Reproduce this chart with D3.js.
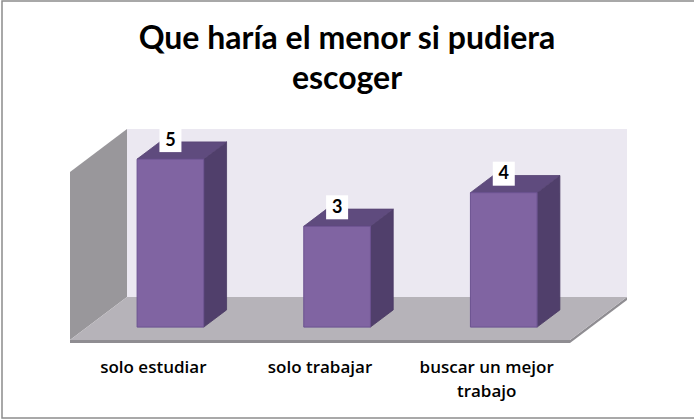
<!DOCTYPE html>
<html>
<head>
<meta charset="utf-8">
<script src="https://cdn.jsdelivr.net/npm/d3@7"></script>
<style>
  html, body { margin: 0; padding: 0; background: #fff; overflow: hidden; }
  svg { display: block; font-family: Lato, "Open Sans", sans-serif; }
</style>
</head>
<body>
<svg id="chart"></svg>
<script>
// datos del gráfico
const categories = ["solo estudiar", "solo trabajar", "buscar un mejor trabajo"];
const values = [5, 3, 4];
const titleLines = ["Que haría el menor si pudiera", "escoger"];
const axisMax = 5;

const W = 694, H = 419;
const origin = { x: 70, y: 340 };   // esquina frontal izquierda del suelo
const plotW = 500, plotH = 168;     // ancho del suelo y alto de la pared
const depth = { dx: 57, dy: -43 };  // proyección oblicua de la profundidad

const svg = d3.select('#chart')
    .attr('width', W)
    .attr('height', H);

svg.append('rect')
    .attr('width', W).attr('height', H)
    .attr('fill', '#fff');

// borde del área del gráfico
svg.append('rect')
    .attr('x', 2).attr('y', 1)
    .attr('width', W + 4).attr('height', H - 2)
    .attr('fill', 'none')
    .attr('stroke', '#8c8c8c')
    .attr('stroke-width', 1.5);

const x = d3.scaleBand()
    .domain(categories)
    .range([0, plotW])
    .paddingInner(0.6)
    .paddingOuter(0.3);

const y = d3.scaleLinear()
    .domain([0, axisMax])
    .range([0, plotH]);

const z = d3.scaleLinear().domain([0, 1]).range([0, 1]);

// punto 3D -> pantalla
function proj(px, h, pz) {
    return [origin.x + px + z(pz) * depth.dx, origin.y - h + z(pz) * depth.dy];
}
function poly(pts) {
    return 'M' + pts.map(p => p.join(',')).join('L') + 'Z';
}

const walls = svg.append('g');

// pared del fondo
walls.append('path')
    .attr('d', poly([proj(0, 0, 1), proj(plotW, 0, 1), proj(plotW, y(axisMax), 1), proj(0, y(axisMax), 1)]))
    .attr('fill', '#ebe8f1');

// pared izquierda
walls.append('path')
    .attr('d', poly([proj(0, 0, 0), proj(0, y(axisMax), 0), proj(0, y(axisMax), 1), proj(0, 0, 1)]))
    .attr('fill', '#99979b');

// grosor del suelo
const th = 3;
walls.append('path')
    .attr('d', poly([proj(0, 0, 0), proj(plotW, 0, 0), proj(plotW, -th, 0), proj(0, -th, 0)]))
    .attr('fill', '#8f8d92');
walls.append('path')
    .attr('d', poly([proj(plotW, 0, 0), proj(plotW, 0, 1), proj(plotW, -th, 1), proj(plotW, -th, 0)]))
    .attr('fill', '#8f8d92');

// suelo
walls.append('path')
    .attr('d', poly([proj(0, 0, 0), proj(plotW, 0, 0), proj(plotW, 0, 1), proj(0, 0, 1)]))
    .attr('fill', '#b6b3b9');

// barras 3D
const z0 = 0.3, z1 = 0.7;
const bars = svg.selectAll('.bar')
    .data(categories.map((c, i) => ({ cat: c, value: values[i] })))
    .enter()
    .append('g')
    .attr('class', 'bar');

bars.append('path')
    .attr('d', d => {
        const x0 = x(d.cat) + x.bandwidth(), h = y(d.value);
        return poly([proj(x0, 0, z0), proj(x0, 0, z1), proj(x0, h, z1), proj(x0, h, z0)]);
    })
    .attr('fill', '#503f6b')
    .attr('stroke', '#4a3a63').attr('stroke-width', 0.8);

bars.append('path')
    .attr('d', d => {
        const x0 = x(d.cat), x1 = x0 + x.bandwidth(), h = y(d.value);
        return poly([proj(x0, h, z0), proj(x1, h, z0), proj(x1, h, z1), proj(x0, h, z1)]);
    })
    .attr('fill', '#5f4b7e')
    .attr('stroke', '#574474').attr('stroke-width', 0.8);

bars.append('path')
    .attr('d', d => {
        const x0 = x(d.cat), x1 = x0 + x.bandwidth(), h = y(d.value);
        return poly([proj(x0, 0, z0), proj(x1, 0, z0), proj(x1, h, z0), proj(x0, h, z0)]);
    })
    .attr('fill', '#8064a2')
    .attr('stroke', '#6b5290').attr('stroke-width', 1);

// etiquetas de valor
const labels = bars.append('g')
    .attr('transform', d => {
        const p = proj(x(d.cat) + x.bandwidth() / 2, y(d.value), z0);
        return `translate(${p[0]},${p[1] - 20})`;
    });

labels.append('rect')
    .attr('x', -11).attr('y', -11)
    .attr('width', 22).attr('height', 24)
    .attr('fill', '#fff');

labels.append('text')
    .attr('text-anchor', 'middle')
    .attr('dy', '0.36em')
    .attr('font-size', 18)
    .attr('font-weight', 'bold')
    .attr('fill', '#000')
    .text(d => d.value);

// etiquetas de categoría
const catLabels = svg.selectAll('.cat-label')
    .data(categories)
    .enter()
    .append('text')
    .attr('class', 'cat-label')
    .attr('text-anchor', 'middle')
    .attr('font-family', '"Open Sans", Lato, sans-serif')
    .attr('font-size', 17)
    .attr('font-weight', 600)
    .attr('fill', '#000')
    .attr('x', d => origin.x + x(d) + x.bandwidth() / 2)
    .attr('y', 373);

catLabels.each(function(d) {
    const text = d3.select(this);
    const cx = +text.attr('x');
    const words = d.split(' ');
    let line = [];
    let tspan = text.append('tspan').attr('x', cx).attr('dy', 0);
    words.forEach(w => {
        line.push(w);
        tspan.text(line.join(' '));
        if (tspan.node().getComputedTextLength() > 150 && line.length > 1) {
            line.pop();
            tspan.text(line.join(' '));
            line = [w];
            tspan = text.append('tspan').attr('x', cx).attr('dy', 24).text(w);
        }
    });
});

// título
const title = svg.append('text')
    .attr('text-anchor', 'middle')
    .attr('font-size', 32)
    .attr('font-weight', 'bold')
    .attr('fill', '#000');

title.selectAll('tspan')
    .data(titleLines)
    .enter()
    .append('tspan')
    .attr('x', 347)
    .attr('y', (d, i) => 49 + i * 40)
    .text(d => d);
</script>
</body>
</html>
